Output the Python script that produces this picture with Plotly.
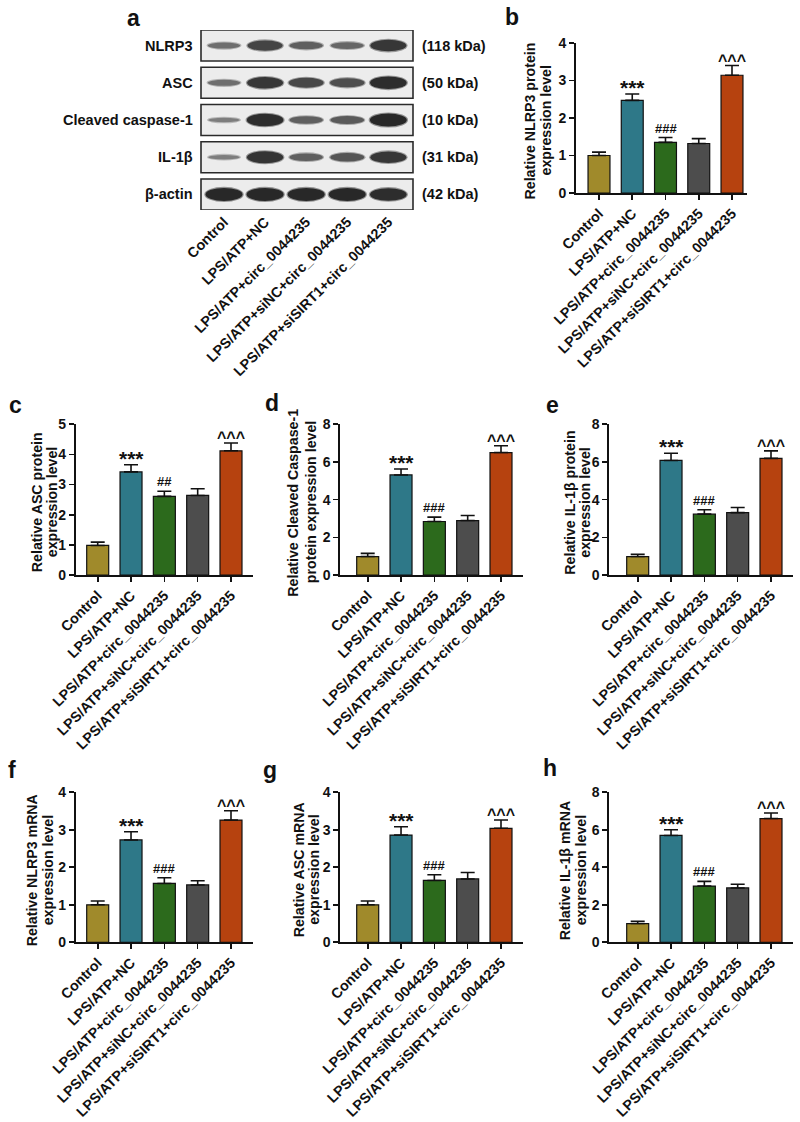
import plotly.graph_objects as go

W, H = 800, 1122
FONT = "Liberation Sans, Arial, sans-serif"
INK = "#111111"

# ---------------- data ----------------
groups = ["Control", "LPS/ATP+NC", "LPS/ATP+circ_0044235",
          "LPS/ATP+siNC+circ_0044235", "LPS/ATP+siSIRT1+circ_0044235"]
bar_colors = ["#A08A2B", "#2E7888", "#2C6A1C", "#4D4D4D", "#B6420F"]

# panel a: western blot (relative band intensity per lane)
blot_rows = ["NLRP3", "ASC", "Cleaved caspase-1", "IL-1β", "β-actin"]
blot_kda = ["(118 kDa)", "(50 kDa)", "(10 kDa)", "(31 kDa)", "(42 kDa)"]
band_nlrp3 = [0.30, 0.72, 0.45, 0.38, 0.85]
band_asc = [0.30, 0.85, 0.68, 0.62, 0.95]
band_casp1 = [0.15, 0.95, 0.45, 0.50, 1.00]
band_il1b = [0.15, 0.88, 0.45, 0.55, 0.85]
band_actin = [1.00, 1.00, 1.00, 1.00, 0.95]

# b: Relative NLRP3 protein
nlrp3_protein = [1.00, 2.47, 1.35, 1.32, 3.14]
nlrp3_protein_sem = [0.09, 0.17, 0.13, 0.13, 0.26]
# c: Relative ASC protein
asc_protein = [0.98, 3.42, 2.61, 2.64, 4.12]
asc_protein_sem = [0.11, 0.24, 0.17, 0.22, 0.26]
# d: Relative Cleaved Caspase-1 protein
casp1_protein = [0.98, 5.31, 2.84, 2.89, 6.50]
casp1_protein_sem = [0.17, 0.32, 0.23, 0.27, 0.36]
# e: Relative IL-1β protein
il1b_protein = [0.98, 6.08, 3.23, 3.31, 6.19]
il1b_protein_sem = [0.12, 0.38, 0.23, 0.27, 0.40]
# f: Relative NLRP3 mRNA
nlrp3_mrna = [1.00, 2.73, 1.57, 1.53, 3.26]
nlrp3_mrna_sem = [0.10, 0.22, 0.15, 0.11, 0.25]
# g: Relative ASC mRNA
asc_mrna = [1.00, 2.86, 1.65, 1.69, 3.04]
asc_mrna_sem = [0.10, 0.22, 0.15, 0.17, 0.22]
# h: Relative IL-1β mRNA
il1b_mrna = [1.00, 5.70, 3.00, 2.90, 6.60]
il1b_mrna_sem = [0.12, 0.30, 0.25, 0.20, 0.30]

# ---------------- layout helpers (page pixel -> paper fraction) ----------------
def px_x(v):
    return min(max(v / W, 0), 1)

def px_y(v):
    return min(max(1 - v / H, 0), 1)

fig = go.Figure()
layout = dict(template="none", width=W, height=H,
              margin=dict(l=0, r=0, t=0, b=0, pad=0, autoexpand=False),
              paper_bgcolor="white", plot_bgcolor="rgba(0,0,0,0)",
              showlegend=False, font=dict(family=FONT, color=INK, size=14))
shapes = []
annotations = []

def bold_font(size):
    return dict(family=FONT, size=size, color=INK, weight="bold")

TICK_FS = 14.3
TITLE_FS = 14.2

# ---------------- panel a: blot ----------------
lane_x0, lane_x1 = 201, 413          # box horizontal extent (px)
blot_top, blot_bot = 30, 210         # vertical extent (px)
row_pitch = (blot_bot - blot_top) / 4.834
layout["xaxis"] = dict(domain=[px_x(lane_x0), px_x(lane_x1)], range=[-0.56, 4.6],
                       showgrid=False, zeroline=False, showline=False, automargin=False,
                       tickmode="array", tickvals=list(range(5)), ticktext=groups,
                       tickangle=-45, ticks="", tickfont=bold_font(TICK_FS), anchor="y",
                       fixedrange=True)
layout["yaxis"] = dict(domain=[px_y(blot_bot), px_y(blot_top)], range=[4.417, -0.417],
                       showgrid=False, zeroline=False, showline=False, automargin=False,
                       showticklabels=False, ticks="", anchor="x", fixedrange=True)
fig.add_trace(go.Scatter(x=[0, 4], y=[0, 4], mode="markers",
                         marker=dict(opacity=0), hoverinfo="skip",
                         xaxis="x", yaxis="y"))
band_sets = [band_nlrp3, band_asc, band_casp1, band_il1b, band_actin]
for r, (name, kda, bands) in enumerate(zip(blot_rows, blot_kda, band_sets)):
    shapes.append(dict(type="rect", xref="x domain", yref="y", x0=0, x1=1,
                       y0=r - 0.417, y1=r + 0.417, fillcolor="#ECECEC",
                       line=dict(color="#2A2A2A", width=1.6), layer="below"))
    for lane, inten in enumerate(bands):
        thick = (3 + 10 * inten) / row_pitch
        half_w = 0.37 + 0.08 * inten
        g = int(140 - 100 * inten)
        # soft halo
        shapes.append(dict(type="circle", xref="x", yref="y",
                           x0=lane - half_w - 0.03, x1=lane + half_w + 0.03,
                           y0=r - thick / 2 - 0.03, y1=r + thick / 2 + 0.03,
                           fillcolor=f"rgba({g},{g},{g},0.45)", line=dict(width=0)))
        shapes.append(dict(type="circle", xref="x", yref="y",
                           x0=lane - half_w, x1=lane + half_w,
                           y0=r - thick / 2, y1=r + thick / 2,
                           fillcolor=f"rgb({g},{g},{g})", line=dict(width=0)))
    annotations.append(dict(xref="paper", yref="y", x=px_x(195), y=r, text=name,
                            showarrow=False, xanchor="right", yanchor="middle",
                            font=bold_font(14.5)))
    annotations.append(dict(xref="paper", yref="y", x=px_x(420), y=r, text=kda,
                            showarrow=False, xanchor="left", yanchor="middle",
                            font=bold_font(14.5)))

# ---------------- bar panels ----------------
panels = [
    # letter, values, sem, title lines, ymax, dtick, marks, geometry (page px)
    ("b", nlrp3_protein, nlrp3_protein_sem, ["Relative NLRP3 protein", "expression level"], 4, 1,
     ["", "***", "###", "", "^^^"],
     dict(x0=575.7, x1=747, yt=43, yb=193, f=599, l=732, t1=529.5, t2=545.5)),
    ("c", asc_protein, asc_protein_sem, ["Relative ASC protein", "expression level"], 5, 1,
     ["", "***", "##", "", "^^^"],
     dict(x0=75.5, x1=253, yt=424.3, yb=575, f=97.7, l=231, t1=36.5, t2=51.5)),
    ("d", casp1_protein, casp1_protein_sem, ["Relative Cleaved Caspase-1", "protein expression level"], 8, 2,
     ["", "***", "###", "", "^^^"],
     dict(x0=340, x1=523, yt=424.3, yb=575, f=367.7, l=501, t1=293, t2=310.5)),
    ("e", il1b_protein, il1b_protein_sem, ["Relative IL-1β protein", "expression level"], 8, 2,
     ["", "***", "###", "", "^^^"],
     dict(x0=609, x1=793, yt=424.3, yb=575, f=637.7, l=771, t1=570, t2=585)),
    ("f", nlrp3_mrna, nlrp3_mrna_sem, ["Relative NLRP3 mRNA", "expression level"], 4, 1,
     ["", "***", "###", "", "^^^"],
     dict(x0=75.5, x1=253, yt=792.3, yb=942.3, f=97.7, l=231, t1=32, t2=48)),
    ("g", asc_mrna, asc_mrna_sem, ["Relative ASC mRNA", "expression level"], 4, 1,
     ["", "***", "###", "", "^^^"],
     dict(x0=340, x1=523, yt=792.3, yb=942.3, f=367.7, l=501, t1=299, t2=314.5)),
    ("h", il1b_mrna, il1b_mrna_sem, ["Relative IL-1β mRNA", "expression level"], 8, 2,
     ["", "***", "###", "", "^^^"],
     dict(x0=609, x1=793, yt=792.3, yb=942.3, f=637.7, l=771, t1=565, t2=581)),
]

letter_pos = {"a": (133, 18), "b": (512, 17), "c": (15, 405), "d": (272, 403),
              "e": (552, 405), "f": (12, 770), "g": (270, 770), "h": (550, 768)}

mark_style = {"***": (21, -7), "###": (13, 0), "##": (13, 0), "^^^": (16, -5)}

for i, (letter, vals, sem, tlines, ymax, dtick, marks, gm) in enumerate(panels):
    n = i + 2
    xa, ya = f"x{n}", f"y{n}"
    sp = (gm["l"] - gm["f"]) / 4
    xr = [-(gm["f"] - gm["x0"]) / sp, 4 + (gm["x1"] - gm["l"]) / sp]
    layout[f"xaxis{n}"] = dict(domain=[px_x(gm["x0"]), px_x(gm["x1"])], range=xr,
                               anchor=ya, showgrid=False, zeroline=False, automargin=False,
                               showline=True, linecolor=INK, linewidth=1.6,
                               ticks="outside", ticklen=5, tickwidth=1.6, tickcolor=INK,
                               tickmode="array", tickvals=list(range(5)), ticktext=groups,
                               tickangle=-45, tickfont=bold_font(TICK_FS), fixedrange=True)
    layout[f"yaxis{n}"] = dict(domain=[px_y(gm["yb"]), px_y(gm["yt"])], range=[0, ymax],
                               anchor=xa, showgrid=False, zeroline=False, automargin=False,
                               showline=True, linecolor=INK, linewidth=1.6,
                               ticks="outside", ticklen=5, tickwidth=1.6, tickcolor=INK,
                               dtick=dtick, tick0=0, tickfont=bold_font(14), fixedrange=True)
    fig.add_trace(go.Bar(x=list(range(5)), y=vals, width=0.66,
                         marker=dict(color=bar_colors, line=dict(color=INK, width=1.2)),
                         error_y=dict(type="data", symmetric=False, array=sem,
                                      arrayminus=[0] * 5, color=INK, thickness=1.6, width=7),
                         xaxis=xa, yaxis=ya, hoverinfo="skip"))
    for k, m in enumerate(marks):
        if not m:
            continue
        size, ysh = mark_style[m]
        annotations.append(dict(xref=xa, yref=ya, x=k, y=vals[k] + sem[k], text=m,
                                showarrow=False, xanchor="center", yanchor="bottom",
                                yshift=ysh, font=bold_font(size)))
    for tx, line in zip((gm["t1"], gm["t2"]), tlines):
        annotations.append(dict(xref="paper", yref=f"{ya} domain", x=px_x(tx), y=0.48,
                                text=line, textangle=-90, showarrow=False,
                                xanchor="center", yanchor="middle", font=bold_font(TITLE_FS)))

for letter, (lx, ly) in letter_pos.items():
    annotations.append(dict(xref="paper", yref="paper", x=px_x(lx), y=px_y(ly),
                            text=letter, showarrow=False, xanchor="center",
                            yanchor="middle", font=bold_font(23)))

layout["shapes"] = shapes
layout["annotations"] = annotations
layout["bargap"] = 0
fig.update_layout(**layout)
# remove the default 8px page margin so the 800x1122 figure fills the window
fig.write_html("out.html", config={"displayModeBar": False, "staticPlot": True},
               post_script="document.body.style.margin='0';document.body.style.overflow='hidden';")
